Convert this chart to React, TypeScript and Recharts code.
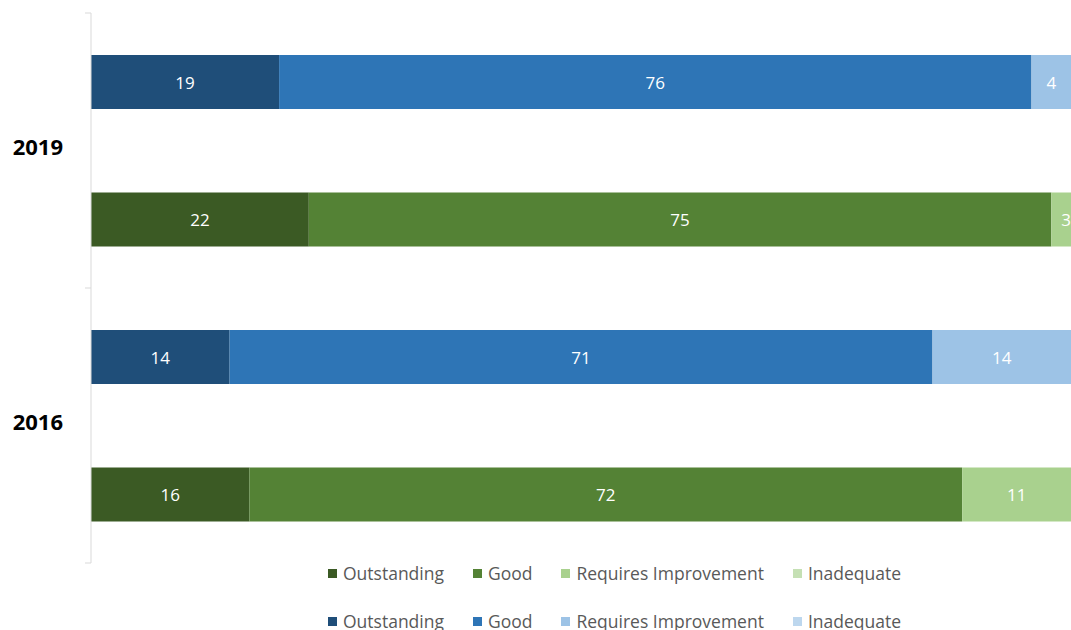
import React from 'react';
import { BarChart, Bar, XAxis, YAxis, Legend, LabelList } from 'recharts';

const years = ['2019', '2016'];
const ratingNames = ['Outstanding', 'Good', 'Requires Improvement', 'Inadequate'];

const blueOutstanding = [19, 14];
const blueGood = [76, 71];
const blueRequiresImprovement = [4, 14];
const blueInadequate = [1, 1];

const greenOutstanding = [22, 16];
const greenGood = [75, 72];
const greenRequiresImprovement = [3, 11];
const greenInadequate = [0, 1];

const greenColors = ['#3B5A24', '#548235', '#A9D18E', '#C5E0B4'];
const blueColors = ['#1F4E79', '#2E75B6', '#9DC3E6', '#BDD7EE'];

const data = years.flatMap((y, i) => [
  {
    row: `${y}-blue`,
    year: y,
    b0: blueOutstanding[i],
    b1: blueGood[i],
    b2: blueRequiresImprovement[i],
    b3: blueInadequate[i],
  },
  {
    row: `${y}-green`,
    year: y,
    g0: greenOutstanding[i],
    g1: greenGood[i],
    g2: greenRequiresImprovement[i],
    g3: greenInadequate[i],
  },
]);

const FONT = '"Open Sans", sans-serif';

const renderLabel = (props: any) => {
  const vb = props.viewBox || props;
  const { x, y, width, height } = vb;
  const value = props.value;
  if (value === undefined || value === null || value === 0 || !width) return null;
  return (
    <text
      x={x + width / 2}
      y={y + height / 2}
      fill="#ffffff"
      textAnchor="middle"
      dominantBaseline="central"
      fontSize={17}
      fontFamily={FONT}
    >
      {value}
    </text>
  );
};

const YTick = (props: any) => {
  const { x, y, payload, index } = props;
  const off = payload && payload.offset ? payload.offset : 68.75;
  const isFirst = index % 2 === 0;
  const isLast = index === data.length - 1;
  return (
    <g>
      {isFirst && (
        <line x1={x - 6} x2={x} y1={y - off} y2={y - off} stroke="#D9D9D9" strokeWidth={1} />
      )}
      {isLast && (
        <line x1={x - 6} x2={x} y1={y + off} y2={y + off} stroke="#D9D9D9" strokeWidth={1} />
      )}
      {isFirst && (
        <text
          x={x - 28}
          y={y + off - 5}
          textAnchor="end"
          dominantBaseline="central"
          fontSize={22}
          fontWeight={700}
          fontFamily={FONT}
          fill="#000000"
        >
          {data[index].year}
        </text>
      )}
    </g>
  );
};

const LegendRow = ({ colors, top }: { colors: string[]; top: number }) => (
  <div
    style={{
      position: 'absolute',
      top,
      left: 0,
      height: 20,
      display: 'flex',
      alignItems: 'center',
      paddingLeft: 328,
      whiteSpace: 'nowrap',
    }}
  >
    {ratingNames.map((n, i) => (
      <div key={n} style={{ display: 'flex', alignItems: 'center', marginRight: 29 }}>
        <span style={{ display: 'inline-block', width: 9, height: 9, background: colors[i], marginRight: 6 }} />
        <span style={{ fontSize: 17.5, color: '#595959', fontFamily: FONT }}>{n}</span>
      </div>
    ))}
  </div>
);

const renderLegend = () => (
  <div style={{ position: 'relative', height: 70, width: 1071 }}>
    <LegendRow colors={greenColors} top={0} />
    <LegendRow colors={blueColors} top={48} />
  </div>
);

export default function App() {
  return (
    <div style={{ width: 1071, height: 630, overflow: 'hidden', position: 'relative', fontFamily: FONT }}>
      <style>{'html,body{margin:0;padding:0;overflow:hidden;}'}</style>
      <BarChart
        width={1081}
        height={650}
        data={data}
        layout="vertical"
        margin={{ top: 13, right: 0, bottom: 17, left: 0 }}
      >
        <XAxis type="number" domain={[0, 100]} hide />
        <YAxis
          type="category"
          dataKey="row"
          width={91}
          axisLine={{ stroke: '#D9D9D9' }}
          tickLine={false}
          tickSize={0}
          tickMargin={0}
          tick={<YTick />}
          interval={0}
        />
        <Legend verticalAlign="bottom" content={renderLegend} />
        {['g0', 'g1', 'g2', 'g3'].map((k, i) => (
          <Bar key={k} dataKey={k} stackId="s" fill={greenColors[i]} barSize={54} isAnimationActive={false} name={ratingNames[i]}>
            <LabelList dataKey={k} content={renderLabel} />
          </Bar>
        ))}
        {['b0', 'b1', 'b2', 'b3'].map((k, i) => (
          <Bar key={k} dataKey={k} stackId="s" fill={blueColors[i]} barSize={54} isAnimationActive={false} name={ratingNames[i]}>
            <LabelList dataKey={k} content={renderLabel} />
          </Bar>
        ))}
      </BarChart>
    </div>
  );
}
